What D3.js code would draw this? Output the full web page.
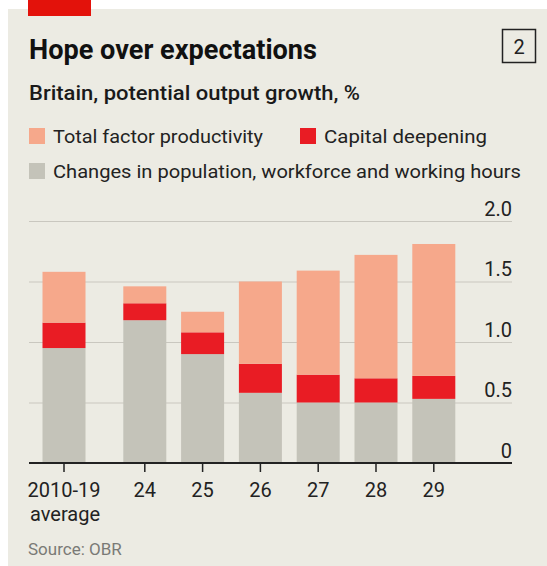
<!DOCTYPE html>
<html>
<head>
<meta charset="utf-8">
<script src="https://cdn.jsdelivr.net/npm/d3@7"></script>
<style>
  body { margin: 0; background: #fff; }
  svg text { font-family: Roboto, "Noto Sans", sans-serif; }
</style>
</head>
<body>
<div id="chart"></div>
<script>
// values
const categories = ["2010-19", "24", "25", "26", "27", "28", "29"];
const population = [0.95, 1.18, 0.90, 0.58, 0.50, 0.50, 0.53];
const capital = [0.21, 0.14, 0.18, 0.24, 0.23, 0.20, 0.19];
const tfp = [0.42, 0.14, 0.17, 0.68, 0.86, 1.02, 1.09];
const yTicks = [0, 0.5, 1, 1.5, 2];
const legendLabels = ["Total factor productivity", "Capital deepening", "Changes in population, workforce and working hours"];

const config = {
    width: 547,
    height: 566,
    left: 29,
    right: 512,
    top: 221,
    bottom: 463,
    gap: 23, // extra space after the average bar
    colors: { population: "#c4c3b9", capital: "#e91c24", tfp: "#f6a88b" }
};

const svg = d3.select('#chart')
    .append('svg')
    .attr('width', config.width)
    .attr('height', config.height)
;

// panel
svg.append('rect')
    .attr('x', 8).attr('y', 9)
    .attr('width', config.width - 8).attr('height', config.height - 9)
    .attr('fill', '#ecebe3');

svg.append('rect')
    .attr('x', 28).attr('y', 0)
    .attr('width', 63).attr('height', 16)
    .attr('fill', '#e3120b');

svg.append('text')
    .attr('x', 29).attr('y', 59)
    .attr('font-size', 27).attr('font-weight', 700)
    .attr('fill', '#111')
    .attr('textLength', 288).attr('lengthAdjust', 'spacingAndGlyphs')
    .text('Hope over expectations');

svg.append('rect')
    .attr('x', 502.5).attr('y', 29.5)
    .attr('width', 33).attr('height', 33)
    .attr('fill', 'none').attr('stroke', '#222').attr('stroke-width', 1.5);
svg.append('text')
    .attr('x', 519).attr('y', 54)
    .attr('text-anchor', 'middle')
    .attr('font-size', 20).attr('fill', '#222')
    .text('2');

svg.append('text')
    .attr('x', 29).attr('y', 100)
    .attr('font-size', 20).attr('font-weight', 500)
    .attr('fill', '#1a1a1a')
    .attr('textLength', 331).attr('lengthAdjust', 'spacingAndGlyphs')
    .text('Britain, potential output growth, %');

// legend
const legend = [
    { label: legendLabels[0], color: config.colors.tfp, x: 29, y: 128, w: 210 },
    { label: legendLabels[1], color: config.colors.capital, x: 300, y: 128, w: 163 },
    { label: legendLabels[2], color: config.colors.population, x: 29, y: 163, w: 468 }
];
const lg = svg.append('g').selectAll('g')
    .data(legend)
    .join('g')
    .attr('transform', d => `translate(${d.x},${d.y})`);
lg.append('rect')
    .attr('width', 16).attr('height', 16)
    .attr('fill', d => d.color);
lg.append('text')
    .attr('x', 24).attr('y', 15)
    .attr('font-size', 19).attr('fill', '#222')
    .attr('textLength', d => d.w).attr('lengthAdjust', 'spacingAndGlyphs')
    .text(d => d.label);

// scales
const x = d3.scaleBand()
    .domain(categories)
    .range([42.5, 432.3])
    .paddingInner(0.256)
    .paddingOuter(0)
;
const xPos = d => x(d) + (d === categories[0] ? 0 : config.gap);

const y = d3.scaleLinear()
    .domain([0, 2])
    .range([config.bottom, config.top])
;

// gridlines + labels
const yAxis = svg.append('g')
    .attr('transform', `translate(${config.left},0)`)
    .call(d3.axisRight(y)
        .tickValues(yTicks)
        .tickSize(config.right - config.left)
        .tickFormat(d => d === 0 ? "0" : d3.format(".1f")(d)))
;
yAxis.select('.domain').remove();
yAxis.selectAll('line')
    .attr('stroke', '#c9c7bf')
    .attr('stroke-width', 1.2);
yAxis.selectAll('text')
    .attr('x', config.right - config.left)
    .attr('dy', -6)
    .attr('text-anchor', 'end')
    .attr('font-size', 20)
    .attr('fill', '#222')
    .attr('font-family', 'Roboto');

// stacked bars
const table = categories.map((c, i) => ({ cat: c, population: population[i], capital: capital[i], tfp: tfp[i] }));
const series = d3.stack().keys(["population", "capital", "tfp"])(table);

svg.append('g')
    .selectAll('g')
    .data(series)
    .join('g')
    .attr('fill', s => config.colors[s.key])
    .selectAll('rect')
    .data(s => s)
    .join('rect')
    .attr('x', d => xPos(d.data.cat))
    .attr('width', x.bandwidth())
    .attr('y', d => y(d[1]))
    .attr('height', d => y(d[0]) - y(d[1]))
;

// x axis
const xAxis = svg.append('g');
xAxis.append('line')
    .attr('x1', config.left).attr('x2', config.right)
    .attr('y1', y(0)).attr('y2', y(0))
    .attr('stroke', '#222').attr('stroke-width', 2);
const xt = xAxis.selectAll('g.tick')
    .data(categories)
    .join('g')
    .attr('class', 'tick')
    .attr('transform', d => `translate(${xPos(d) + x.bandwidth() / 2},${y(0)})`);
xt.append('line')
    .attr('y1', 0).attr('y2', 9)
    .attr('stroke', '#222').attr('stroke-width', 1.5);
xt.append('text')
    .attr('y', 34)
    .attr('text-anchor', 'middle')
    .attr('font-size', 20)
    .attr('fill', '#222')
    .text(d => d);
svg.append('text')
    .attr('x', 30).attr('y', 521)
    .attr('font-size', 20).attr('fill', '#222')
    .text('average');

svg.append('text')
    .attr('x', 28).attr('y', 555)
    .attr('font-size', 17).attr('fill', '#7a7a76')
    .text('Source: OBR');
</script>
</body>
</html>
